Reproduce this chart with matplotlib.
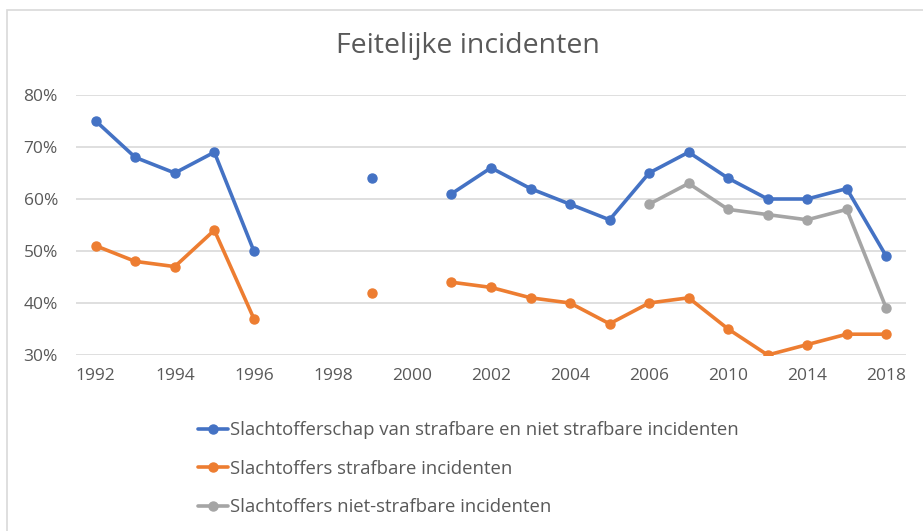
import numpy as np
import matplotlib.pyplot as plt
from matplotlib.patches import Rectangle

plt.rcParams['font.family'] = ['Open Sans', 'DejaVu Sans']

# categorieen (jaren) en reeksen, None = geen meting
years = ['1992', '1993', '1994', '1995', '1996', '1997', '1998', '1999', '2000', '2001',
         '2002', '2003', '2004', '2005', '2006', '2008', '2010', '2012', '2014', '2016', '2018']
totaal = [75, 68, 65, 69, 50, None, None, 64, None, 61,
          66, 62, 59, 56, 65, 69, 64, 60, 60, 62, 49]
strafbaar = [51, 48, 47, 54, 37, None, None, 42, None, 44,
             43, 41, 40, 36, 40, 41, 35, 30, 32, 34, 34]
niet_strafbaar = [None, None, None, None, None, None, None, None, None, None,
                  None, None, None, None, 59, 63, 58, 57, 56, 58, 39]
labels = ['Slachtofferschap van strafbare en niet strafbare incidenten',
          'Slachtoffers strafbare incidenten',
          'Slachtoffers niet-strafbare incidenten']
colors = ['#4472C4', '#ED7D31', '#A5A5A5']
ytick_vals = [30, 40, 50, 60, 70, 80]

txt = '#595959'

fig = plt.figure(figsize=(9.23, 5.31), dpi=100)
ax = fig.add_axes([76 / 923, 1 - 355 / 531, 830 / 923, 260 / 531])

x = np.arange(len(years))
for serie, lab, col in zip([totaal, strafbaar, niet_strafbaar], labels, colors):
    y = np.array([np.nan if v is None else v / 100 for v in serie])
    ax.plot(x, y, color=col, lw=2.6, marker='o', markersize=6.5, label=lab,
            solid_capstyle='round', zorder=3)

ax.set_xlim(-0.5, len(years) - 0.5)
ax.set_ylim(0.30, 0.80)
ax.set_yticks([v / 100 for v in ytick_vals])
ax.set_yticklabels([f'{v}%' for v in ytick_vals])
ax.set_xticks(x[::2])
ax.set_xticklabels(years[::2])
ax.tick_params(length=0, labelsize=12.5, colors=txt)
ax.tick_params(axis='x', pad=9)
ax.tick_params(axis='y', pad=13)
ax.grid(axis='y', color='#D9D9D9', lw=1.2)
ax.set_axisbelow(True)
for s in ax.spines.values():
    s.set_visible(False)
ax.patch.set_alpha(0)

fig.text(468 / 923, 1 - 46 / 531, 'Feitelijke incidenten', ha='center', va='center',
         fontsize=20.5, color=txt)

fig.legend(loc='upper left', bbox_to_anchor=(198 / 923, 1 - 421 / 531), frameon=False,
           fontsize=13.3, labelcolor=txt, handlelength=1.6, handletextpad=0.12,
           labelspacing=1.12, borderpad=0, borderaxespad=0)

# lichte rand om de grafiek
fig.patches.append(Rectangle((7 / 923, -0.1), 1.1, 1 - 10 / 531 + 0.1, transform=fig.transFigure,
                             fill=False, edgecolor='#D9D9D9', lw=1.2))

fig.savefig('out.png', dpi=100)
